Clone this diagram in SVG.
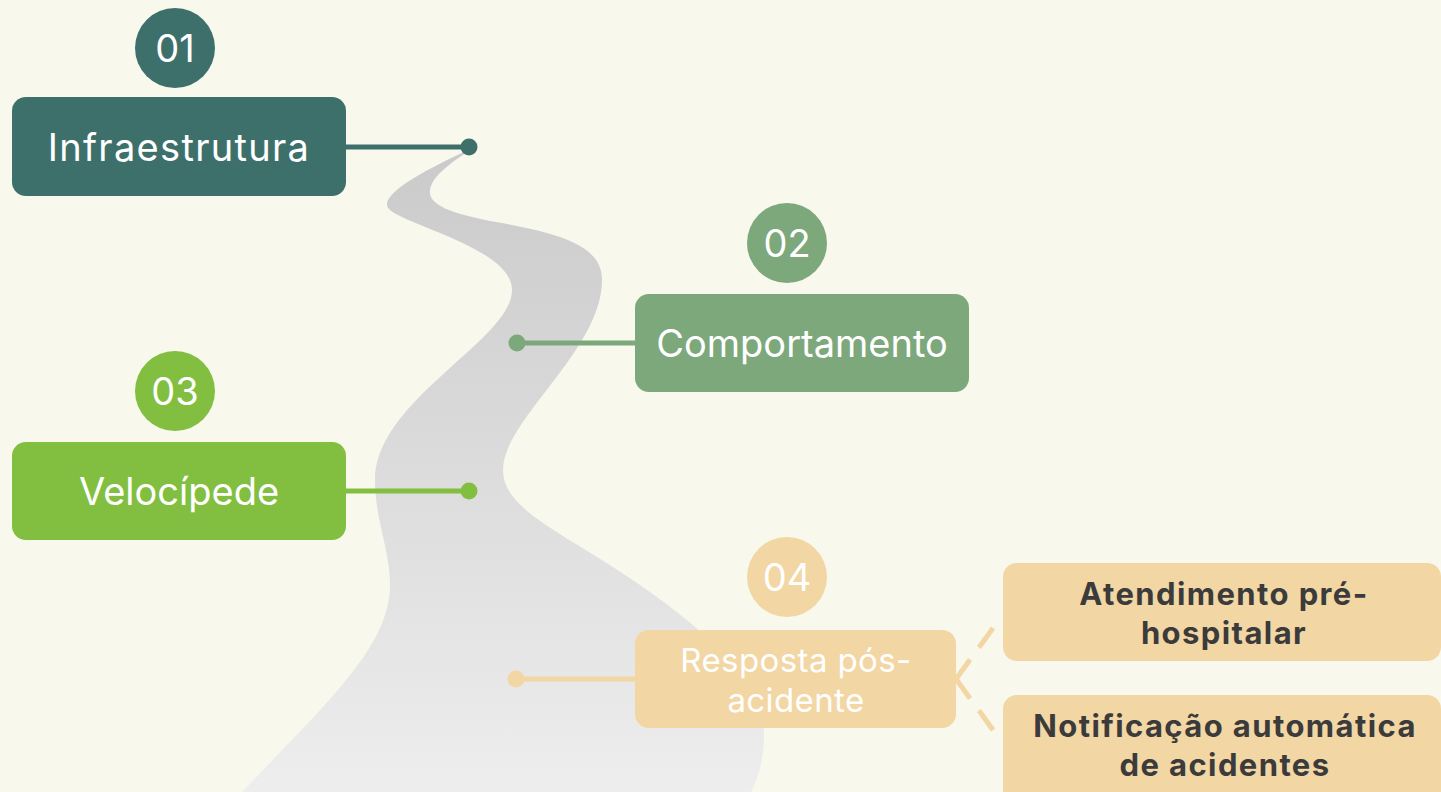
<svg xmlns="http://www.w3.org/2000/svg" width="1441" height="792" viewBox="0 0 1441 792">
  <defs>
    <linearGradient id="road" x1="0" y1="0" x2="0" y2="1">
      <stop offset="0" stop-color="#cacaca"/>
      <stop offset="1" stop-color="#eeeeee"/>
    </linearGradient>
  </defs>
  <style>
    .t { font-family: Inter, "Noto Sans", "Liberation Sans", sans-serif; fill: #ffffff; text-anchor: middle; }
    .big { font-size: 38px; }
    .mid { font-size: 33px; letter-spacing: 0.4px; }
    .dark { font-family: Inter, "Noto Sans", "Liberation Sans", sans-serif; fill: #3b3b3b; font-weight: 700; font-size: 31px; letter-spacing: 1.4px; text-anchor: middle; }
    .c1 { fill: #3d706b; } .s1 { stroke: #3d706b; }
    .c2 { fill: #7da87b; } .s2 { stroke: #7da87b; }
    .c3 { fill: #82bf40; } .s3 { stroke: #82bf40; }
    .c4 { fill: #f2d6a4; } .s4 { stroke: #f2d6a4; }
    .ln { stroke-width: 5; fill: none; }
    .dash { stroke-width: 5; fill: none; stroke-dasharray: 24 15; }
  </style>
  <rect x="0" y="0" width="1441" height="792" fill="#f8f8ed"/>
  <path id="roadshape" fill="url(#road)" d="M 470,149 C 430,168 386,190 387,205 C 387,222 512,245 512,290 C 512,340 375,400 375,480 C 375,520 390,550 390,585 C 390,645 330,700 242,792 L 230,800 L 760,800 L 751,792 C 760,775 764,755 764,735 C 764,690 720,640 640,585 C 560,530 503,510 503,470 C 503,420 602,350 602,280 C 602,245 560,233 490,221 C 450,213 428,205 430,190 C 432,175 455,160 472,149 Z"/>
  <g id="connectors">
    <line class="ln s1" x1="340" y1="147" x2="469" y2="147"/>
    <circle class="c1" cx="469" cy="147" r="8.5"/>
    <line class="ln s2" x1="517" y1="343" x2="640" y2="343"/>
    <circle class="c2" cx="517" cy="343" r="8.5"/>
    <line class="ln s3" x1="340" y1="491" x2="469" y2="491"/>
    <circle class="c3" cx="469" cy="491" r="8.5"/>
    <line class="ln s4" x1="516" y1="679" x2="640" y2="679"/>
    <circle class="c4" cx="516" cy="679" r="8.5"/>
    <line class="dash s4" x1="956" y1="679" x2="996" y2="624"/>
    <line class="dash s4" x1="956" y1="679" x2="996" y2="734"/>
  </g>
  <g id="node1">
    <circle class="c1" cx="175" cy="48" r="40"/>
    <text class="t big" x="175" y="62">01</text>
    <rect class="c1" x="12" y="97" width="334" height="99" rx="14"/>
    <text class="t big" x="179" y="161" style="letter-spacing:1.3px">Infraestrutura</text>
  </g>
  <g id="node2">
    <circle class="c2" cx="787" cy="243" r="40"/>
    <text class="t big" x="787" y="257">02</text>
    <rect class="c2" x="635" y="294" width="334" height="98" rx="14"/>
    <text class="t big" x="802" y="357">Comportamento</text>
  </g>
  <g id="node3">
    <circle class="c3" cx="175" cy="391" r="40"/>
    <text class="t big" x="175" y="405">03</text>
    <rect class="c3" x="12" y="442" width="334" height="98" rx="14"/>
    <text class="t big" x="179" y="505">Velocípede</text>
  </g>
  <g id="node4">
    <circle class="c4" cx="787" cy="577" r="40"/>
    <text class="t big" x="787" y="591">04</text>
    <rect class="c4" x="635" y="630" width="321" height="98" rx="14"/>
    <text class="t mid" x="796" y="672">Resposta pós-</text>
    <text class="t mid" x="796" y="712">acidente</text>
  </g>
  <g id="node5">
    <rect class="c4" x="1003" y="563" width="438" height="98" rx="14"/>
    <text class="dark" x="1224" y="605">Atendimento pré-</text>
    <text class="dark" x="1224" y="644">hospitalar</text>
  </g>
  <g id="node6">
    <rect class="c4" x="1003" y="695" width="438" height="120" rx="14"/>
    <text class="dark" x="1225" y="737">Notificação automática</text>
    <text class="dark" x="1225" y="776">de acidentes</text>
  </g>
</svg>
